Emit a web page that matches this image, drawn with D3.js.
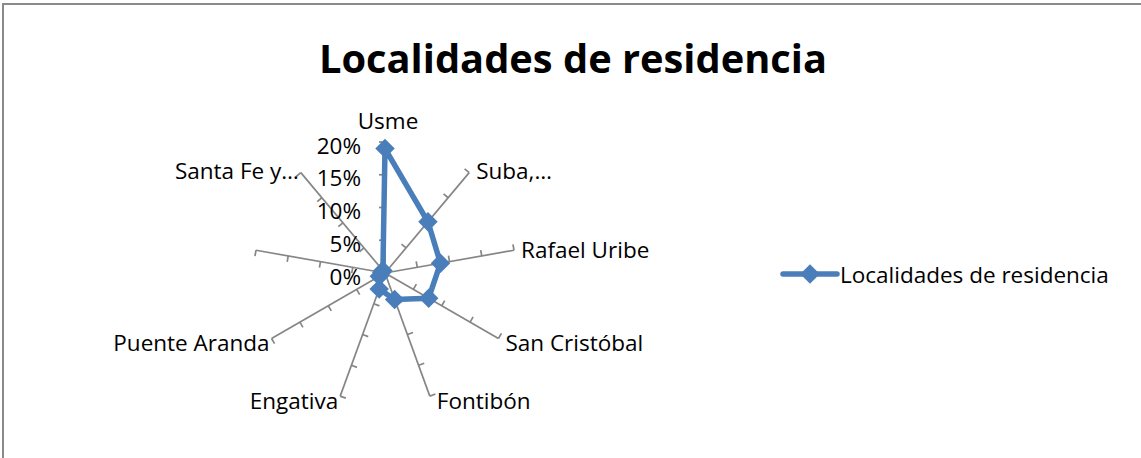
<!DOCTYPE html>
<html>
<head>
<meta charset="utf-8">
<script src="https://cdn.jsdelivr.net/npm/d3@7"></script>
<style>
  body { margin: 0; background: #fff; }
  svg { display: block; font-family: "Open Sans", sans-serif; }
</style>
</head>
<body>
<svg id="chart" width="1141" height="458"></svg>
<script>
// data
const categories = ["Usme", "Suba,…", "Rafael Uribe", "San Cristóbal", "Fontibón",
  "Engativa", "Puente Aranda", "", "Santa Fe y…"];
const values = [0.19, 0.102, 0.086, 0.077, 0.043, 0.026, 0.01, 0.005, 0.005];
const ticks = [0, 0.05, 0.1, 0.15, 0.2];
const seriesName = "Localidades de residencia";

const width = 1141, height = 458;
const cx = 385, cy = 273, R = 131;
const blue = "#4a7ebb", axisGrey = "#868686";
const labelSize = 22.5;

const svg = d3.select("#chart");

// chart frame (right and bottom edges fall outside the picture)
svg.append("rect")
  .attr("x", 3).attr("y", 4)
  .attr("width", width + 10).attr("height", height + 10)
  .attr("fill", "#fff")
  .attr("stroke", "#8a8a8a")
  .attr("stroke-width", 2);

svg.append("text")
  .attr("x", 573).attr("y", 57)
  .attr("text-anchor", "middle")
  .attr("dominant-baseline", "central")
  .attr("font-weight", "bold")
  .attr("font-size", 39.8)
  .text("Localidades de residencia");

const r = d3.scaleLinear().domain([0, 0.2]).range([0, R]);
const angle = d3.scalePoint()
  .domain(d3.range(categories.length + 1))
  .range([0, 2 * Math.PI]);

const g = svg.append("g").attr("transform", `translate(${cx},${cy})`);

const pt = (i, v) => {
  const a = angle(i);
  return [Math.sin(a) * r(v), -Math.cos(a) * r(v)];
};

// spokes with tick marks on the counter-clockwise side
const spokes = g.append("g").selectAll("g")
  .data(categories)
  .join("g");

spokes.append("line")
  .attr("x1", 0).attr("y1", 0)
  .attr("x2", (d, i) => pt(i, 0.2)[0])
  .attr("y2", (d, i) => pt(i, 0.2)[1])
  .attr("stroke", axisGrey)
  .attr("stroke-width", 1.7);

spokes.selectAll("path.tick")
  .data((d, i) => ticks.slice(1).map(t => ({ i, t })))
  .join("path")
  .attr("class", "tick")
  .attr("d", d => {
    const a = angle(d.i);
    const [x, y] = pt(d.i, d.t);
    const tx = -Math.cos(a) * 6, ty = -Math.sin(a) * 6;
    return `M${x},${y}L${x + tx},${y + ty}`;
  })
  .attr("stroke", axisGrey)
  .attr("stroke-width", 1.7)
  .attr("fill", "none");

// category labels
spokes.append("text")
  .attr("font-size", labelSize)
  .attr("fill", "#000")
  .attr("dominant-baseline", "central")
  .each(function(d, i) {
    const a = angle(i);
    const s = Math.sin(a), c = Math.cos(a);
    const [x, y] = pt(i, 0.2);
    const sel = d3.select(this);
    if (Math.abs(s) < 0.1) {
      sel.attr("text-anchor", "middle").attr("x", x + 3).attr("y", y - c * 22);
    } else {
      sel.attr("text-anchor", s > 0 ? "start" : "end")
        .attr("x", x + (s > 0 ? 7 : -2))
        .attr("y", y - c * 3 + (c < 0 ? 2 : 0));
    }
  })
  .text(d => d);

// value axis labels
g.append("g").selectAll("text")
  .data(ticks)
  .join("text")
  .attr("x", -24)
  .attr("y", d => -r(d) + 3)
  .attr("text-anchor", "end")
  .attr("dominant-baseline", "central")
  .attr("font-size", labelSize)
  .text(d3.format(".0%"));

// series
const line = d3.lineRadial()
  .angle((d, i) => angle(i))
  .radius(d => r(d))
  .curve(d3.curveLinearClosed);

g.append("path")
  .datum(values)
  .attr("d", line)
  .attr("fill", "none")
  .attr("stroke", blue)
  .attr("stroke-width", 5.5)
  .attr("stroke-linejoin", "round");

const diamond = d3.symbol(d3.symbolSquare, 190);
g.append("g").selectAll("path")
  .data(values)
  .join("path")
  .attr("transform", (d, i) => `translate(${pt(i, d)}) rotate(45)`)
  .attr("d", diamond)
  .attr("fill", blue);

// legend
const lg = svg.append("g").attr("transform", "translate(783,274)");
lg.append("line")
  .attr("x1", 0).attr("x2", 54)
  .attr("stroke", blue).attr("stroke-width", 5.5)
  .attr("stroke-linecap", "round");
lg.append("path")
  .attr("transform", "translate(27,0) rotate(45)")
  .attr("d", diamond)
  .attr("fill", blue);
lg.append("text")
  .attr("x", 57)
  .attr("dominant-baseline", "central")
  .attr("font-size", labelSize)
  .text(seriesName);
</script>
</body>
</html>
